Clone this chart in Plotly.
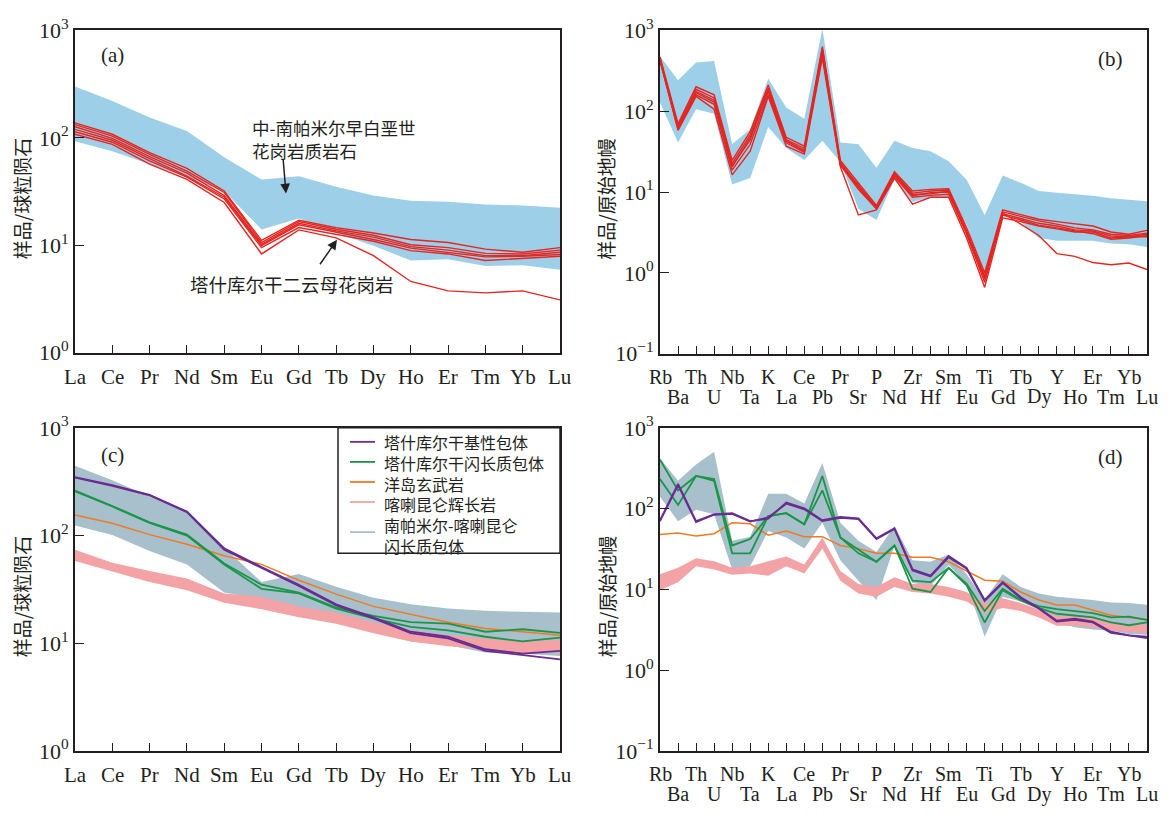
import plotly.graph_objects as go

W, H = 1168, 818

# ---------------- element lists ----------------
REE = ["La", "Ce", "Pr", "Nd", "Sm", "Eu", "Gd", "Tb", "Dy", "Ho", "Er", "Tm", "Yb", "Lu"]
SPIDER = ["Rb", "Ba", "Th", "U", "Nb", "Ta", "K", "La", "Ce", "Pb", "Pr", "Sr", "P", "Nd",
          "Zr", "Hf", "Sm", "Eu", "Ti", "Gd", "Tb", "Dy", "Y", "Ho", "Er", "Tm", "Yb", "Lu"]

# ---------------- (a) chondrite-normalised REE, two-mica granite ----------------
a_band_upper = [300, 220, 155, 116, 66, 41, 44, 35, 29, 26, 25.4, 24, 23.4, 22.3]
a_band_lower = [93, 75, 57, 43, 32, 14, 17.7, 13, 9.9, 7.2, 7.4, 6.4, 6.5, 5.9]
a_gr1 = [138, 108, 73, 52, 32, 11.1, 17.1, 14.6, 13.0, 11.3, 10.6, 9.2, 8.6, 9.5]
a_gr2 = [133, 104, 70, 49, 31, 10.6, 16.6, 14.1, 12.4, 10.1, 9.5, 8.4, 8.3, 9.0]
a_gr3 = [127, 99, 67, 47, 29, 10.2, 16.0, 13.6, 11.9, 9.7, 9.0, 8.0, 8.0, 8.6]
a_gr4 = [120, 95, 64, 44, 28, 9.9, 15.5, 13.2, 11.3, 9.4, 8.6, 7.8, 7.9, 8.2]
a_gr5 = [114, 91, 61, 43, 27, 9.5, 14.6, 12.7, 10.9, 8.9, 8.3, 7.2, 7.6, 7.9]
a_gr6 = [108, 87, 57, 41, 25, 8.3, 13.9, 11.7, 8.0, 4.6, 3.76, 3.6, 3.76, 3.1]

# ---------------- (b) primitive-mantle-normalised spider, two-mica granite ----------------
b_band_upper = [480, 242, 400, 419, 39, 60, 253, 111, 81, 1050, 41, 39, 20, 43, 35, 32, 24,
                14.2, 5.2, 16, 13, 10.3, 9.8, 9.4, 9.0, 8.4, 8.1, 7.7]
b_band_lower = [128, 41, 106, 93, 12.4, 14.9, 64, 35, 25, 43, 23.5, 6.2, 4.5, 14.2, 7.5, 8.6,
                8.6, 3.9, 0.83, 6.2, 4.3, 2.7, 2.5, 2.5, 2.5, 2.3, 2.25, 2.08]
b_gr1 = [470, 70, 201, 160, 24.6, 56, 211, 47.5, 37, 632, 24.6, 12.9, 6.8, 17.8, 10.3, 10.8,
         11, 3.6, 1.0, 6.0, 5.2, 4.6, 4.3, 4.0, 3.8, 3.2, 3.0, 3.35]
b_gr2 = [455, 66, 187, 146, 22.4, 51, 193, 44.6, 34.8, 604, 23.5, 11.8, 6.5, 17.1, 9.7, 10.3,
         10.6, 3.3, 0.91, 5.7, 5.0, 4.4, 4.0, 3.6, 3.4, 3.0, 2.9, 3.1]
b_gr3 = [440, 63, 176, 137, 20.5, 47, 176, 42.6, 33, 551, 22.4, 11.3, 6.3, 16.3, 9.0, 9.8,
         10, 3.1, 0.83, 5.4, 4.7, 4.1, 3.8, 3.4, 3.3, 2.86, 2.8, 3.0]
b_gr4 = [430, 60, 160, 122, 18.7, 39, 160, 40.6, 30.9, 503, 21.4, 10.8, 6.2, 15.6, 8.6, 9.1,
         9.4, 3.0, 0.76, 5.2, 4.5, 3.9, 3.6, 3.3, 3.05, 2.6, 2.7, 2.9]
b_gr5 = [420, 58, 153, 106, 16.3, 32, 153, 37, 29.5, 459, 20.5, 5.2, 6.0, 14.9, 7.1, 8.6,
         8.6, 2.7, 0.66, 4.8, 4.3, 3.8, 3.5, 3.2, 3.2, 2.7, 2.8, 2.8]
b_gr6 = [445, 62, 170, 130, 21, 44, 185, 43, 32, 580, 22, 12.2, 6.4, 16.8, 9.4, 9.5,
         10.3, 3.2, 0.88, 5.5, 4.0, 2.9, 1.73, 1.6, 1.34, 1.26, 1.32, 1.1]

# ---------------- (c) chondrite-normalised REE, enclaves and references ----------------
c_grey_upper = [444, 326, 231, 164, 77, 37, 44, 33.5, 26.4, 23, 21, 20, 19.6, 19.3]
c_grey_lower = [124, 101, 72, 54, 29.6, 25.5, 19.3, 15.7, 12.8, 10.4, 9.6, 8.2, 8.0, 7.6]
c_pink_upper = [74, 56, 47, 40, 29, 27, 22, 19.3, 15.7, 13.2, 11.9, 11.1, 10.4, 10.8]
c_pink_lower = [58, 46, 37, 31, 23.8, 20.7, 17.4, 15.2, 12.4, 10.4, 9.4, 8.8, 8.0, 8.2]
c_mafic1 = [349, 294, 239, 167, 76, 51, 35, 23, 17.4, 12.8, 11.5, 8.8, 8.0, 8.5]
c_mafic2 = [345, 290, 236, 165, 74, 50, 34, 22.5, 17.0, 12.4, 11.1, 8.5, 7.8, 7.1]
c_dior1 = [261, 188, 133, 102, 55, 35, 29.6, 21.4, 18, 15.7, 15.2, 12.8, 13.5, 12.5]
c_dior2 = [258, 186, 131, 100, 54, 32, 29, 21, 17, 14.2, 13.2, 11.5, 10.4, 11.3]
c_oib = [155, 130, 102, 83, 65, 54, 38.5, 28.6, 22, 18.7, 15.7, 13.7, 12.8, 11.9]

# ---------------- (d) primitive-mantle-normalised spider, enclaves and references ----------------
d_grey_upper = [421, 221, 351, 506, 40, 45, 153, 153, 116, 367, 67, 40, 29, 61, 23, 22, 27,
                15.4, 7.4, 15.4, 10.7, 8.9, 8.1, 7.8, 7.4, 6.9, 6.8, 6.45]
d_grey_lower = [140, 70, 97, 85, 17.7, 19.4, 53, 44, 32, 67, 23, 12.8, 7.4, 35, 12, 11, 20,
                11.7, 2.6, 8.1, 7.1, 5.6, 3.9, 3.4, 3.2, 3.1, 2.8, 2.75]
d_pink_upper = [15.4, 18.5, 24.4, 22.3, 18.5, 19.4, 22.3, 25.6, 20.3, 44, 16.9, 11.7, 10.7,
                14.1, 11.7, 11.7, 10.7, 9.3, 6.8, 7.8, 6.8, 5.6, 4.7, 4.7, 4.5, 3.9, 3.7, 3.7]
d_pink_lower = [9.8, 12.3, 19.4, 17.7, 15.2, 15.7, 14.8, 19.4, 15.7, 32, 12.8, 8.9, 8.1,
                10.7, 9.3, 8.9, 8.1, 7.1, 5.1, 5.9, 5.4, 4.5, 3.55, 3.55, 3.4, 3.1, 3.0, 2.9]
d_mafic1 = [72, 202, 70, 85, 88, 70, 75, 119, 101, 72, 79, 76, 43, 57, 17.7, 14.8, 26, 18.5,
            7.4, 12.3, 8.0, 5.9, 4.1, 4.35, 4.0, 3.0, 2.7, 2.5]
d_mafic2 = [70, 195, 68, 84, 86, 69, 78, 115, 98, 70, 77, 74, 42, 56, 17.2, 14.5, 25, 18,
            7.2, 12, 7.8, 5.8, 4.0, 4.2, 3.9, 2.9, 2.7, 2.6]
d_dior1 = [402, 168, 254, 232, 35, 42, 81, 88, 64, 254, 44, 31, 22, 35, 12.8, 12.3, 18.5,
           11.7, 5.4, 10.2, 7.4, 6.2, 5.7, 5.4, 5.1, 4.5, 4.6, 4.2]
d_dior2 = [232, 111, 254, 221, 28, 28, 81, 88, 64, 168, 44, 28, 22, 35, 10.2, 9.3, 18.5,
           11.2, 3.9, 9.8, 7.3, 5.9, 5.0, 4.7, 4.5, 3.9, 3.6, 3.9]
d_oib = [48, 50, 46, 49, 67, 65, 47, 53, 45, 45, 35, 32, 28, 28, 25, 25, 22, 17, 13, 12.6,
         9.3, 7.4, 6.4, 6.4, 5.6, 4.8, 4.5, 4.2]

LEGEND_LABELS = ["塔什库尔干基性包体", "塔什库尔干闪长质包体", "洋岛玄武岩",
                 "喀喇昆仑辉长岩", "南帕米尔-喀喇昆仑<br>闪长质包体"]

# ---------------- styling ----------------
BLUE_BAND = "rgb(157,207,232)"
GREY_BAND = "rgb(168,191,204)"
PINK_BAND = "rgb(243,163,165)"
RED = "rgb(228,38,33)"
PURPLE = "rgb(105,45,145)"
GREEN = "rgb(26,150,72)"
ORANGE = "rgb(240,122,34)"
INK = "#231f20"
SERIF = "Liberation Serif"
CJK = "Noto Sans CJK SC"

# panel frames in pixels: (left, right), (top, bottom)
FRAMES = {
    "a": ((75, 560), (15, 349)),
    "b": ((660, 1147), (15, 350)),
    "c": ((75, 560), (427, 762)),
    "d": ((660, 1147), (427, 762)),
}
AXES = {"a": ("x", "y"), "b": ("x2", "y2"), "c": ("x3", "y3"), "d": ("x4", "y4")}


def fx(p):
    return p / W


def fy(p):
    return 1 - p / H


fig = go.Figure()


def band(panel, cats, upper, lower, color):
    xr, yr = AXES[panel]
    fig.add_trace(go.Scatter(
        x=list(cats) + list(cats)[::-1], y=list(upper) + list(lower)[::-1],
        fill="toself", fillcolor=color, line=dict(width=0), mode="lines",
        hoverinfo="skip", showlegend=False, xaxis=xr, yaxis=yr))


def line(panel, cats, vals, color, width=1.5):
    xr, yr = AXES[panel]
    fig.add_trace(go.Scatter(
        x=cats, y=vals, mode="lines", line=dict(color=color, width=width),
        showlegend=False, xaxis=xr, yaxis=yr))


# (a)
band("a", REE, a_band_upper, a_band_lower, BLUE_BAND)
for s in (a_gr1, a_gr2, a_gr3, a_gr4, a_gr5, a_gr6):
    line("a", REE, s, RED, 1.4)

# (b)
band("b", SPIDER, b_band_upper, b_band_lower, BLUE_BAND)
for s in (b_gr1, b_gr2, b_gr3, b_gr4, b_gr5, b_gr6):
    line("b", SPIDER, s, RED, 1.4)

# (c)
band("c", REE, c_grey_upper, c_grey_lower, GREY_BAND)
band("c", REE, c_pink_upper, c_pink_lower, PINK_BAND)
line("c", REE, c_oib, ORANGE, 1.5)
for s in (c_dior1, c_dior2):
    line("c", REE, s, GREEN, 1.8)
for s in (c_mafic1, c_mafic2):
    line("c", REE, s, PURPLE, 1.8)

# (d)
band("d", SPIDER, d_grey_upper, d_grey_lower, GREY_BAND)
band("d", SPIDER, d_pink_upper, d_pink_lower, PINK_BAND)
line("d", SPIDER, d_oib, ORANGE, 1.5)
for s in (d_dior1, d_dior2):
    line("d", SPIDER, s, GREEN, 1.8)
for s in (d_mafic1, d_mafic2):
    line("d", SPIDER, s, PURPLE, 1.8)

# ---------------- axes ----------------
layout = dict(width=W, height=H, margin=dict(l=0, r=0, t=0, b=0),
              paper_bgcolor="white", plot_bgcolor="white", showlegend=False)


def exp_label(e):
    return "10<sup>%s</sup>" % (str(e) if e >= 0 else "\u2212" + str(-e))


for key, (xr, yr) in AXES.items():
    (l, r), (t, b) = FRAMES[key]
    cats = REE if key in ("a", "c") else SPIDER
    lo = 0 if key in ("a", "c") else -1
    xname = "xaxis" + xr[1:]
    yname = "yaxis" + yr[1:]
    layout[xname] = dict(
        domain=[fx(l), fx(r)], anchor=yr, type="category", categoryorder="array",
        categoryarray=cats, range=[0, len(cats) - 1], showgrid=False, zeroline=False,
        showline=True, linecolor=INK, linewidth=1.8, mirror=True,
        ticks="inside", ticklen=8, tickwidth=1.3, tickcolor=INK, showticklabels=False)
    exps = list(range(lo, 4))
    layout[yname] = dict(
        domain=[fy(b), fy(t)], anchor=xr, type="log", range=[lo, 3], showgrid=False,
        zeroline=False, showline=True, linecolor=INK, linewidth=1.8, mirror=True,
        ticks="inside", ticklen=9, tickwidth=1.3, tickcolor=INK,
        tickmode="array", tickvals=[10 ** e for e in exps],
        ticktext=[exp_label(e) for e in exps],
        tickfont=dict(family=SERIF, size=22, color=INK))

annotations = []

# category labels under each panel
for key, (xr, yr) in AXES.items():
    (l, r), (t, b) = FRAMES[key]
    if key in ("a", "c"):
        for c in REE:
            annotations.append(dict(
                x=c, y=fy(b + 25), xref=xr, yref="paper", text=c, showarrow=False,
                xanchor="center", yanchor="middle",
                font=dict(family=SERIF, size=21, color=INK)))
    else:
        for i, c in enumerate(SPIDER):
            row = b + 24 if i % 2 == 0 else b + 45
            annotations.append(dict(
                x=c, y=fy(row), xref=xr, yref="paper", text=c, showarrow=False,
                xanchor="center", yanchor="middle",
                font=dict(family=SERIF, size=20, color=INK)))

# axis titles
for key, title in (("a", "样品/球粒陨石"), ("b", "样品/原始地幔"),
                   ("c", "样品/球粒陨石"), ("d", "样品/原始地幔")):
    (l, r), (t, b) = FRAMES[key]
    annotations.append(dict(
        x=fx(l - 54), y=fy((t + b) / 2 + 8), xref="paper", yref="paper", text=title,
        textangle=-90, showarrow=False, xanchor="center", yanchor="middle",
        font=dict(family=CJK, size=19, color=INK)))

# panel letters
for key, (px, py) in (("a", (112, 40)), ("b", (1110, 45)), ("c", (112, 455)), ("d", (1110, 457))):
    annotations.append(dict(
        x=fx(px), y=fy(py), xref="paper", yref="paper", text="(%s)" % key,
        showarrow=False, xanchor="center", yanchor="middle",
        font=dict(family=SERIF, size=21, color=INK)))

# labels and arrows inside panel (a)
annotations.append(dict(
    x=fx(250), y=fy(128), xref="paper", yref="paper",
    text="中-南帕米尔早白垩世<br>花岗岩质岩石", align="left",
    showarrow=False, xanchor="left", yanchor="middle",
    font=dict(family=CJK, size=17.5, color=INK)))
annotations.append(dict(
    x=fx(188), y=fy(278), xref="paper", yref="paper", text="塔什库尔干二云母花岗岩",
    showarrow=False, xanchor="left", yanchor="middle",
    font=dict(family=CJK, size=18.5, color=INK)))
annotations.append(dict(
    x=fx(286), y=fy(184), xref="paper", yref="paper", text="", showarrow=True,
    ax=-3, ay=-36, arrowhead=2, arrowsize=1.3, arrowwidth=1.5, arrowcolor=INK))
annotations.append(dict(
    x=fx(337), y=fy(232), xref="paper", yref="paper", text="", showarrow=True,
    ax=-18, ay=26, arrowhead=2, arrowsize=1.3, arrowwidth=1.5, arrowcolor=INK))

# legend box inside panel (c)
LEG_FONT = 16
LEG_STEP = 1.3 * LEG_FONT
LEG_TOP = 441.5
shapes = [dict(type="rect", xref="paper", yref="paper",
               x0=fx(338), x1=fx(560), y0=fy(557), y1=fy(427),
               line=dict(color=INK, width=1.5), fillcolor="white")]
legend_colors = [PURPLE, GREEN, ORANGE, PINK_BAND, GREY_BAND]
for i, col in enumerate(legend_colors):
    ymid = LEG_TOP + i * LEG_STEP + (LEG_STEP / 2 if i == 4 else 0)
    shapes.append(dict(type="line", xref="paper", yref="paper",
                       x0=fx(350), x1=fx(375), y0=fy(ymid), y1=fy(ymid),
                       line=dict(color=col, width=1.8)))
annotations.append(dict(
    x=fx(382), y=fy(LEG_TOP - LEG_STEP / 2 - 3.5), xref="paper", yref="paper",
    text="<br>".join(LEGEND_LABELS), align="left",
    showarrow=False, xanchor="left", yanchor="top",
    font=dict(family=CJK, size=LEG_FONT, color=INK)))

layout["annotations"] = annotations
layout["shapes"] = shapes
fig.update_layout(**layout)

fig.write_html("out.html")
